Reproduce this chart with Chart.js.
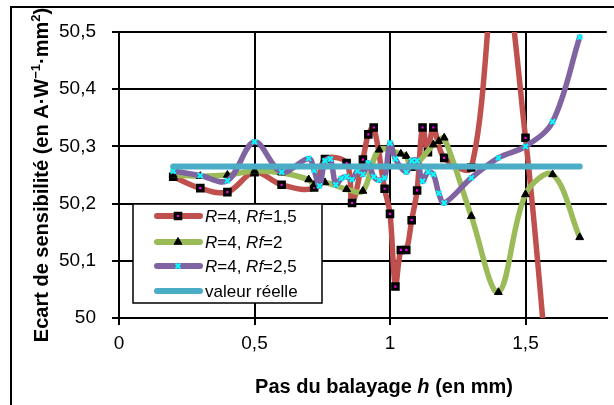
<!DOCTYPE html>
<html>
<head>
<meta charset="utf-8">
<script src="https://cdn.jsdelivr.net/npm/chart.js@4/dist/chart.umd.min.js"></script>
<style>
  html, body { margin: 0; padding: 0; background: #fff; }
  #sensChart { display: block; }
</style>
</head>
<body>
<canvas id="sensChart" width="614" height="405"></canvas>
<script>
// pas du balayage h (mm) et écart de sensibilité pour chaque série
let redH = [0.2, 0.3, 0.4, 0.5, 0.6, 0.72, 0.76, 0.84, 0.86, 0.90, 0.92, 0.94, 0.98, 1.00,
    1.02, 1.04, 1.06, 1.08, 1.10, 1.12, 1.14, 1.16, 1.20, 1.3, 1.4, 1.5, 1.6];
let redVals = [50.247, 50.227, 50.220, 50.255, 50.233, 50.228, 50.278, 50.271, 50.201, 50.277,
    50.321, 50.333, 50.226, 50.182, 50.055, 50.119, 50.119, 50.171, 50.223, 50.333, 50.290,
    50.333, 50.280, 50.263, 50.650, 50.315, 49.800];

let greenH = [0.2, 0.3, 0.4, 0.5, 0.6, 0.7, 0.72, 0.76, 0.84, 0.90, 0.96, 1.04, 1.06, 1.08,
    1.16, 1.18, 1.20, 1.3, 1.4, 1.5, 1.6, 1.7];
let greenVals = [50.250, 50.248, 50.250, 50.257, 50.254, 50.242, 50.233, 50.237, 50.225, 50.222,
    50.294, 50.287, 50.283, 50.262, 50.303, 50.309, 50.315, 50.178, 50.045, 50.216, 50.251, 50.141];

let purpleH = [0.2, 0.3, 0.4, 0.5, 0.6, 0.70, 0.72, 0.74, 0.76, 0.78, 0.80, 0.82, 0.84, 0.86,
    0.88, 0.90, 0.92, 0.94, 0.96, 0.98, 1.00, 1.02, 1.06, 1.08, 1.10, 1.12, 1.14, 1.16, 1.18,
    1.20, 1.3, 1.4, 1.5, 1.6, 1.7];
let purpleVals = [50.257, 50.249, 50.240, 50.308, 50.255, 50.279, 50.258, 50.231, 50.275, 50.278,
    50.233, 50.244, 50.247, 50.242, 50.257, 50.251, 50.271, 50.247, 50.241, 50.245, 50.306,
    50.278, 50.255, 50.275, 50.275, 50.239, 50.255, 50.251, 50.218, 50.201, 50.245, 50.280,
    50.300, 50.343, 50.491];

let realH = [0.2, 1.7];
let realVals = [50.265, 50.265];

let xTicks = [0, 0.5, 1, 1.5];
let yTicks = [50, 50.1, 50.2, 50.3, 50.4, 50.5];

const FONT = '"Liberation Sans", Arial, sans-serif';

function toPoints(hs, vals) {
    return hs.map((h, i) => ({ x: h, y: vals[i] }));
}

function frComma(v) {
    return String(Math.round(v * 10) / 10).replace('.', ',');
}

const redStyle = { pointStyle: 'rect', radius: 3.8, borderWidth: 3.2, fill: '#ff00ff', stroke: '#000' };
const greenStyle = { pointStyle: 'triangle', radius: 4.5, borderWidth: 1, fill: '#000', stroke: '#000' };
const purpleStyle = { pointStyle: 'crossRot', radius: 3.5, borderWidth: 2, fill: '#00ffff', stroke: '#00ffff' };

// cadre, titres d'axes et légende dessinés à la main (exposants, italiques)
const decorations = {
    id: 'decorations',
    afterDraw(chart) {
        const ctx = chart.ctx;
        ctx.save();

        // cadre extérieur
        ctx.strokeStyle = '#000';
        ctx.lineWidth = 2;
        ctx.strokeRect(11, 7, 640, 440);

        // titre axe x
        const bold = 'bold 20px ' + FONT;
        const boldIt = 'italic bold 20px ' + FONT;
        const xParts = [['Pas du balayage ', bold], ['h', boldIt], [' (en mm)', bold]];
        let w = 0;
        xParts.forEach(p => { ctx.font = p[1]; w += ctx.measureText(p[0]).width; });
        let x = 384 - w / 2;
        ctx.fillStyle = '#000';
        ctx.textBaseline = 'alphabetic';
        xParts.forEach(p => { ctx.font = p[1]; ctx.fillText(p[0], x, 393); x += ctx.measureText(p[0]).width; });

        // titre axe y
        const sup = 'bold 13px ' + FONT;
        const yParts = [
            ['Ecart de sensibilité (en A·W', bold, 0],
            ['\u22121', sup, -8],
            ['·mm', bold, 0],
            ['2', sup, -8],
            [')', bold, 0]
        ];
        w = 0;
        yParts.forEach(p => { ctx.font = p[1]; w += ctx.measureText(p[0]).width; });
        ctx.save();
        ctx.translate(48, 175);
        ctx.rotate(-Math.PI / 2);
        x = -w / 2;
        yParts.forEach(p => { ctx.font = p[1]; ctx.fillText(p[0], x, p[2]); x += ctx.measureText(p[0]).width; });
        ctx.restore();

        // légende
        ctx.fillStyle = '#fff';
        ctx.fillRect(133, 204, 189, 99);
        ctx.lineWidth = 1.5;
        ctx.strokeStyle = '#000';
        ctx.strokeRect(133, 204, 189, 99);

        const reg = '17px ' + FONT;
        const it = 'italic 17px ' + FONT;
        const rows = [
            { y: 216, color: '#C0504D', mk: redStyle, text: [['R', it], ['=4, ', reg], ['Rf', it], ['=1,5', reg]] },
            { y: 242, color: '#9BBB59', mk: greenStyle, text: [['R', it], ['=4, ', reg], ['Rf', it], ['=2', reg]] },
            { y: 266, color: '#8064A2', mk: purpleStyle, text: [['R', it], ['=4, ', reg], ['Rf', it], ['=2,5', reg]] },
            { y: 291, color: '#4BACC6', mk: null, text: [['valeur réelle', reg]] }
        ];
        rows.forEach(r => {
            ctx.strokeStyle = r.color;
            ctx.lineWidth = 6;
            ctx.lineCap = 'round';
            ctx.beginPath();
            ctx.moveTo(157, r.y);
            ctx.lineTo(200, r.y);
            ctx.stroke();
            if (r.mk) {
                ctx.fillStyle = r.mk.fill;
                ctx.strokeStyle = r.mk.stroke;
                ctx.lineWidth = r.mk.borderWidth;
                ctx.lineCap = 'butt';
                Chart.helpers.drawPoint(ctx, {
                    pointStyle: r.mk.pointStyle, radius: r.mk.radius,
                    rotation: 0, borderWidth: r.mk.borderWidth
                }, 178, r.y);
            }
            ctx.fillStyle = '#000';
            ctx.textBaseline = 'middle';
            let tx = 205;
            r.text.forEach(p => { ctx.font = p[1]; ctx.fillText(p[0], tx, r.y + 1); tx += ctx.measureText(p[0]).width; });
        });

        ctx.restore();
    }
};

function seriesDataset(label, hs, vals, color, mk, order) {
    return {
        label: label,
        data: toPoints(hs, vals),
        showLine: true,
        borderColor: color,
        backgroundColor: color,
        borderWidth: 5.5,
        tension: 0.35,
        borderCapStyle: 'round',
        borderJoinStyle: 'round',
        pointStyle: mk.pointStyle,
        pointRadius: mk.radius,
        pointBorderWidth: mk.borderWidth,
        pointBackgroundColor: mk.fill,
        pointBorderColor: mk.stroke,
        order: order,
        clip: 0
    };
}

const data = {
    datasets: [
        seriesDataset('R=4, Rf=1,5', redH, redVals, '#C0504D', redStyle, 3),
        seriesDataset('R=4, Rf=2', greenH, greenVals, '#9BBB59', greenStyle, 2),
        seriesDataset('R=4, Rf=2,5', purpleH, purpleVals, '#8064A2', purpleStyle, 1),
        {
            label: 'valeur réelle',
            data: toPoints(realH, realVals),
            showLine: true,
            borderColor: '#4BACC6',
            borderWidth: 6,
            borderCapStyle: 'round',
            pointRadius: 0,
            order: 0
        }
    ]
};

const config = {
    type: 'scatter',
    data: data,
    options: {
        responsive: false,
        animation: false,
        layout: {
            padding: { top: 32, right: 7, left: 0, bottom: 0 }
        },
        plugins: {
            legend: { display: false },
            tooltip: { enabled: false }
        },
        scales: {
            x: {
                type: 'linear',
                min: 0,
                max: 1.8,
                afterFit: s => { s.height = 87; },
                afterBuildTicks: s => { s.ticks = xTicks.map(v => ({ value: v })); },
                ticks: {
                    padding: 7,
                    color: '#000',
                    font: { family: FONT, size: 19 },
                    callback: v => frComma(v)
                },
                grid: { color: '#000', lineWidth: 2, tickLength: 7, tickColor: '#000', tickWidth: 2 },
                border: { color: '#000', width: 2 }
            },
            y: {
                min: 50,
                max: 50.5,
                afterFit: s => { s.width = 119; },
                afterBuildTicks: s => { s.ticks = yTicks.map(v => ({ value: v })); },
                ticks: {
                    padding: 16,
                    color: '#000',
                    font: { family: FONT, size: 19 },
                    callback: v => frComma(v)
                },
                grid: { color: '#000', lineWidth: 2, tickLength: 7, tickColor: '#000', tickWidth: 2 },
                border: { color: '#000', width: 2 }
            }
        }
    },
    plugins: [decorations]
};

const chart = new Chart(
    document.getElementById('sensChart'),
    config
);
</script>
</body>
</html>
